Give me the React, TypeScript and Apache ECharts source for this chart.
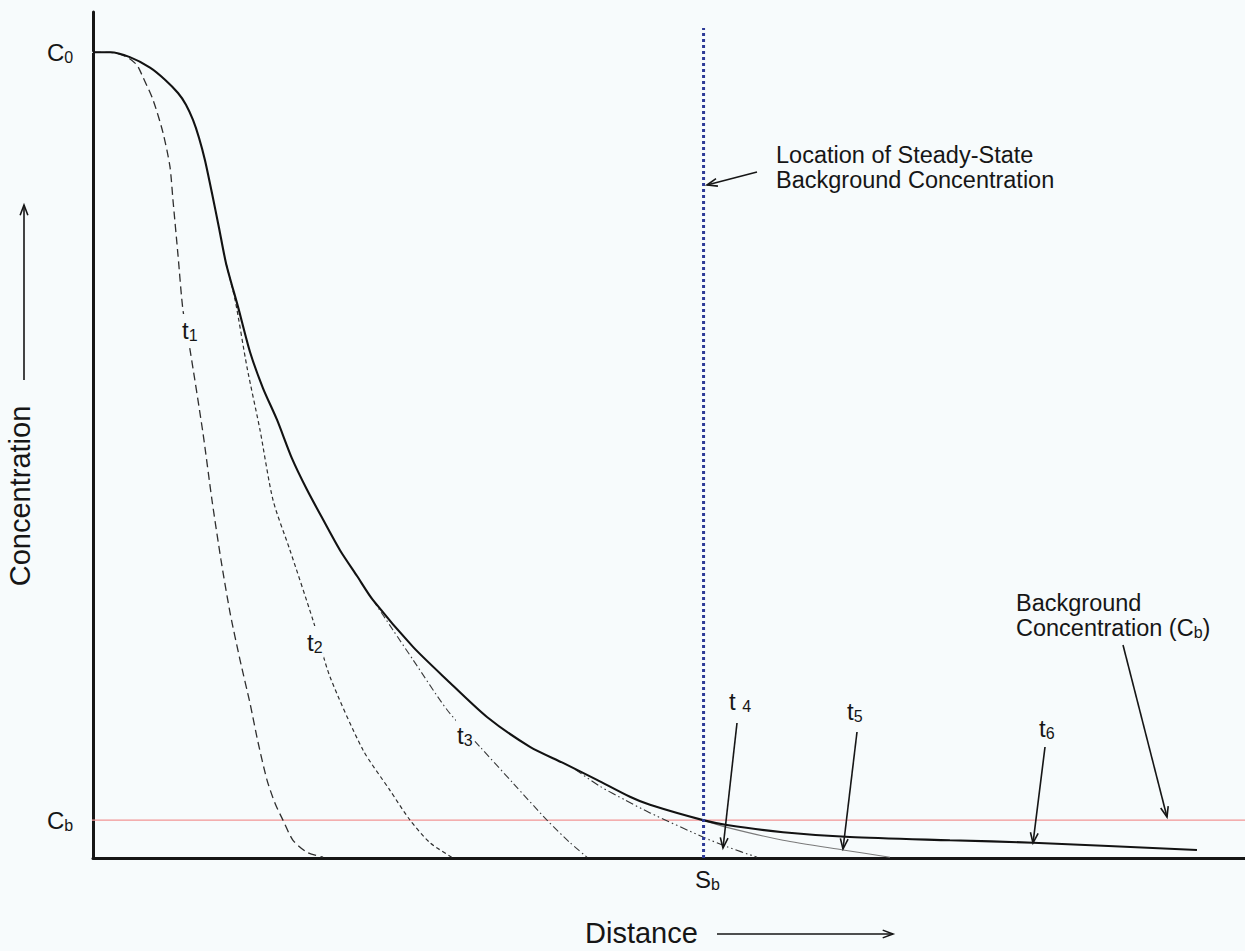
import React, { useEffect, useRef } from "react";
import * as echarts from "echarts";

// Axis extents (distance in arbitrary units, concentration with C0 = 100)
const X_MAX = 100;
const Y_MAX = 105;
const C0 = 100;
const CB = 4.7;
const SB = 53.0;
const SB_TOP = 103;
const LEFT_STUB = -1.1;

// t6 (solid, steady state envelope)
const t6X = [0, 1.5, 3.2, 4.95, 6.25, 7.38, 8.07, 8.68, 9.2, 9.72, 10.33, 10.94, 11.55, 12.59, 13.63, 14.76, 15.97, 17.27, 18.58, 19.97, 21.44, 22.92, 24.31, 27.78, 30.73, 34.2, 37.93, 40.8, 43.75, 46.61, 48.35, 52.95, 55.03, 59.9, 65.71, 74.39, 81.6, 95.83];
const t6Y = [100, 100, 99.4, 98.1, 96.6, 94.95, 93.5, 91.6, 89.4, 86.6, 82.5, 78.2, 73.8, 68.4, 62.8, 58.3, 54.4, 49.6, 45.7, 42.0, 38.2, 35.0, 32.0, 26.2, 22.1, 17.5, 13.8, 11.8, 9.7, 7.6, 6.6, 4.7, 4.1, 3.2, 2.6, 2.2, 1.9, 1.0];

const t1X = [0, 1.48, 2.95, 3.82, 4.34, 5.21, 6.08, 6.68, 6.94, 7.38, 7.81, 8.42, 9.55, 10.33, 11.11, 11.89, 12.76, 13.63, 14.32, 15.1, 15.8, 16.49, 17.36, 18.58, 19.97];
const t1Y = [100, 100, 99.4, 98.4, 96.9, 94.1, 90.0, 85.8, 81.7, 74.8, 68.0, 63.1, 52.7, 44.4, 37.0, 30.5, 24.6, 19.2, 14.4, 9.7, 6.8, 4.7, 2.2, 0.7, 0.1];

const t2X = [11.55, 12.33, 13.37, 14.5, 15.63, 17.1, 19.1, 20.57, 23.44, 25.78, 27.52, 29.25, 31.25];
const t2Y = [73.8, 69.3, 60.9, 53.1, 44.4, 38.2, 29.5, 22.5, 13.4, 8.4, 4.7, 1.9, 0];

const t3X = [24.31, 26.04, 27.78, 30.73, 33.59, 36.46, 39.41, 41.41, 42.88];
const t3Y = [32.0, 28.3, 24.6, 18.4, 13.8, 9.3, 4.7, 1.9, 0.1];

const t4X = [41.84, 44.01, 46.18, 48.35, 52.95, 55.03, 57.64];
const t4Y = [11.0, 8.9, 7.2, 5.6, 2.6, 1.4, 0.1];

const t5X = [52.95, 55.03, 59.9, 65.1, 69.18];
const t5Y = [4.7, 3.8, 2.2, 1.0, 0.1];

const BG = "#f7fbfc";
const INK = "#161616";
const FONT = "Liberation Sans, Arial, Helvetica, sans-serif";

const zip = (xs: number[], ys: number[]) => xs.map((x, i) => [x, ys[i]]);

function arrow(x1: number, y1: number, x2: number, y2: number, len = 11, ang = 0.36) {
  const a = Math.atan2(y2 - y1, x2 - x1);
  const p1 = [x2 - len * Math.cos(a - ang), y2 - len * Math.sin(a - ang)];
  const p2 = [x2 - len * Math.cos(a + ang), y2 - len * Math.sin(a + ang)];
  return [
    { type: "line", shape: { x1, y1, x2, y2 }, style: { stroke: INK, lineWidth: 1.6 }, z: 20 },
    { type: "polyline", shape: { points: [p1, [x2, y2], p2] }, style: { stroke: INK, lineWidth: 1.6, fill: null }, z: 20 },
  ];
}

function subText(x: number, y: number, text: string, size: number, subSize: number, opts: any = {}) {
  const lh = size + 2;
  const drop = opts.drop ?? 8;
  return {
    type: "text",
    x,
    y,
    z: 30,
    style: {
      text,
      fontFamily: FONT,
      fontSize: size,
      lineHeight: lh,
      fill: INK,
      align: opts.align ?? "left",
      verticalAlign: "middle",
      backgroundColor: opts.bg ?? "transparent",
      padding: opts.padding ?? 0,
      rich: {
        s: { fontFamily: FONT, fontSize: subSize, lineHeight: Math.max(2, lh - 2 * drop), fill: INK, verticalAlign: "bottom" },
      },
    },
  };
}

function plainText(x: number, y: number, text: string, size: number, extra: any = {}) {
  return {
    type: "text",
    x,
    y,
    z: 30,
    ...extra,
    style: { text, fontFamily: FONT, fontSize: size, fill: INK, align: "left", verticalAlign: "middle", ...(extra.style || {}) },
  };
}

export default function App() {
  const ref = useRef<HTMLDivElement>(null);
  useEffect(() => {
    if (!ref.current) return;
    const chart = echarts.init(ref.current, undefined, { renderer: "svg" });
    const axisLine = { show: true, onZero: false, lineStyle: { color: INK, width: 3 } };
    const line = (name: string, data: number[][], lineStyle: any, z = 2) => ({
      name,
      type: "line",
      data,
      showSymbol: false,
      symbol: "none",
      smooth: 0.25,
      clip: false,
      silent: true,
      z,
      lineStyle,
    });
    chart.setOption({
      animation: false,
      backgroundColor: BG,
      grid: { left: 93, right: 0, top: 12, bottom: 93 },
      xAxis: {
        type: "value",
        min: 0,
        max: X_MAX,
        axisLine,
        axisTick: { show: false },
        axisLabel: { show: false },
        splitLine: { show: false },
      },
      yAxis: {
        type: "value",
        min: 0,
        max: Y_MAX,
        axisLine,
        axisTick: { show: false },
        axisLabel: { show: false },
        splitLine: { show: false },
      },
      series: [
        { ...line("Cb", [[LEFT_STUB, CB], [X_MAX, CB]], { color: "#f29595", width: 1.2 }, 1), smooth: false },
        { ...line("C0", [[LEFT_STUB, C0], [0, C0]], { color: "#c9ced3", width: 1.2 }, 1), smooth: false },
        line("t5", zip(t5X, t5Y), { color: "#7a7a7a", width: 1.1 }),
        line("t4", zip(t4X, t4Y), { color: "#333", width: 1.1, type: [8, 3, 1.5, 3, 1.5, 3] }),
        line("t3", zip(t3X, t3Y), { color: "#3a3a3a", width: 1.1, type: [7, 3, 1.5, 3] }),
        line("t2", zip(t2X, t2Y), { color: "#2e2e2e", width: 1.2, type: [4, 3] }),
        line("t1", zip(t1X, t1Y), { color: "#2e2e2e", width: 1.3, type: [8, 4.5] }),
        line("t6", zip(t6X, t6Y), { color: "#121212", width: 2.1 }, 3),
        { ...line("Sb", [[SB, 0], [SB, SB_TOP]], { color: "#2d3a97", width: 3, type: [3, 3] }, 4), smooth: false },
      ],
    });

    const px = (x: number, y: number) => chart.convertToPixel({ gridIndex: 0 }, [x, y]) as number[];
    const pC0 = px(0, C0);
    const pCb = px(0, CB);
    const pSb = px(SB, 0);

    const graphics: any[] = [
      subText(47, pC0[1], "C{s|0}", 24, 16),
      subText(47, pCb[1], "C{s|b}", 24, 16),
      subText(pSb[0] + 4, 879, "S{s|b}", 24, 16, { align: "center" }),
      subText(181, 330, "t{s|1}", 24, 16, { bg: BG, padding: [3, 1, 3, 1] }),
      subText(306, 642, "t{s|2}", 24, 16, { bg: BG, padding: [3, 1, 3, 1] }),
      subText(456, 735, "t{s|3}", 24, 16, { bg: BG, padding: [3, 1, 3, 1] }),
      subText(729, 701, "t {s|4}", 24, 16),
      subText(847, 711, "t{s|5}", 24, 16),
      subText(1039, 728, "t{s|6}", 24, 16),
      plainText(776, 155, "Location of Steady-State", 23.5),
      plainText(776, 180, "Background Concentration", 23.5),
      plainText(1016, 603, "Background", 23.5),
      subText(1016, 628, "Concentration (C{s|b})", 23.5, 16),
      plainText(585, 933, "Distance", 29),
      {
        type: "text",
        x: 20,
        y: 496,
        rotation: Math.PI / 2,
        z: 30,
        style: { text: "Concentration", fontFamily: FONT, fontSize: 29, fill: INK, align: "center", verticalAlign: "middle" },
      },
      ...arrow(757, 172, 707, 185),
      ...arrow(737, 723, 723, 848),
      ...arrow(857, 732, 843, 849),
      ...arrow(1045, 747, 1033, 843),
      ...arrow(1123, 645, 1167, 817),
      ...arrow(717, 934, 893, 934),
      ...arrow(24, 380, 24, 205),
    ];
    chart.setOption({ graphic: graphics });
    return () => chart.dispose();
  }, []);
  return (
    <div
      ref={ref}
      style={{ position: "fixed", left: 0, top: 0, width: 1245, height: 951, background: BG }}
    />
  );
}
